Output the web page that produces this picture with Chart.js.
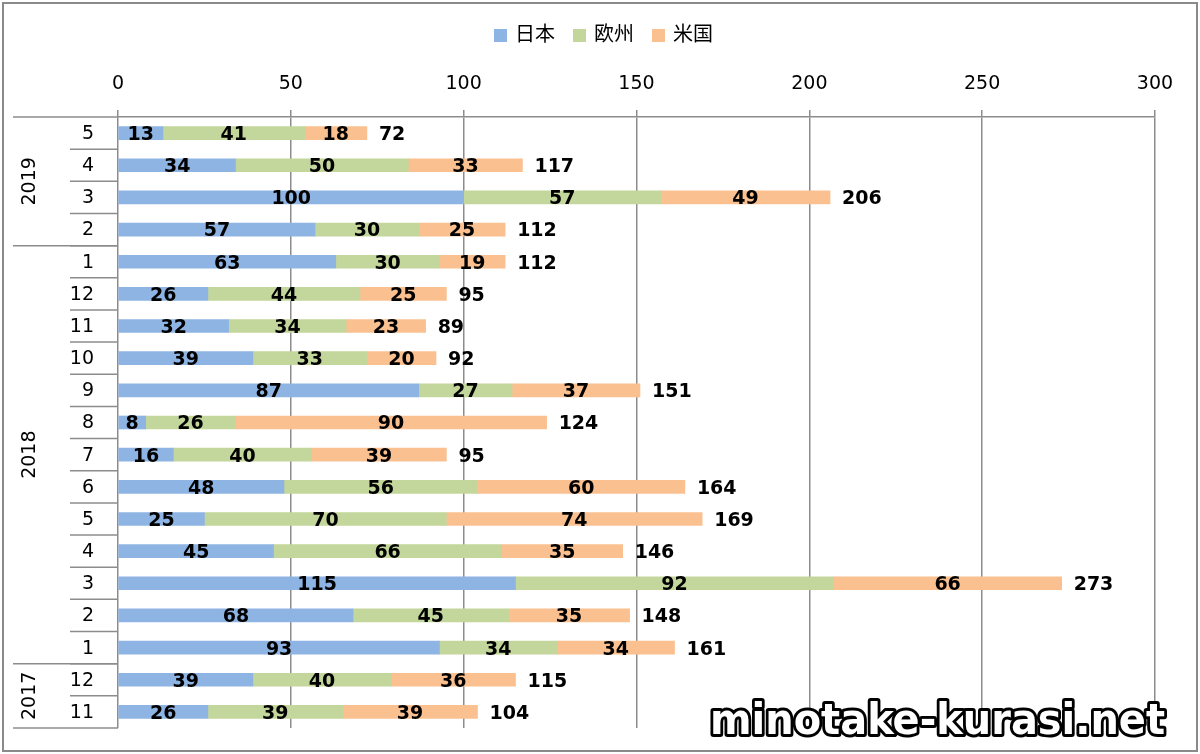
<!DOCTYPE html>
<html>
<head>
<meta charset="utf-8">
<script src="https://cdn.jsdelivr.net/npm/chart.js@4/dist/chart.umd.min.js"></script>
<style>
  html, body { margin: 0; padding: 0; background: #fff; }
  #wrap { width: 1200px; height: 754px; position: relative; }
</style>
</head>
<body>
<div id="wrap"><canvas id="chart" width="1200" height="754"></canvas></div>
<script>
// months top to bottom (latest first)
const months = ['5', '4', '3', '2', '1', '12', '11', '10', '9', '8', '7', '6', '5', '4', '3', '2', '1', '12', '11'];
// year groups as drawn in the source, with how many rows each spans
const years = ['2019', '2018', '2017'];
const yearSpans = [4, 13, 2];

const japan  = [13, 34, 100, 57, 63, 26, 32, 39, 87, 8, 16, 48, 25, 45, 115, 68, 93, 39, 26];
const europe = [41, 50, 57, 30, 30, 44, 34, 33, 27, 26, 40, 56, 70, 66, 92, 45, 34, 40, 39];
const usa    = [18, 33, 49, 25, 19, 25, 23, 20, 37, 90, 39, 60, 74, 35, 66, 35, 34, 36, 39];
const totals = [72, 117, 206, 112, 112, 95, 89, 92, 151, 124, 95, 164, 169, 146, 273, 148, 161, 115, 104];

const xTicks = [0, 50, 100, 150, 200, 250, 300];

const GRID = '#8c8c8c';
const LABEL_FONT = 'bold 19px "DejaVu Sans", Verdana, sans-serif';
const AXIS_FONT = '19px "DejaVu Sans", Verdana, sans-serif';
const LEGEND_FONT = '20px "Noto Sans CJK JP", sans-serif';

// bold values in the middle of each segment, totals after the bar end
const valueLabels = {
  id: 'valueLabels',
  afterDatasetsDraw(chart) {
    const ctx = chart.ctx;
    const x = chart.scales.x;
    ctx.save();
    ctx.font = LABEL_FONT;
    ctx.fillStyle = '#000';
    ctx.textBaseline = 'middle';
    chart.data.datasets.forEach((ds, i) => {
      const meta = chart.getDatasetMeta(i);
      meta.data.forEach((bar, j) => {
        const cx = (bar.x + bar.base) / 2;
        ctx.textAlign = 'center';
        ctx.fillText(String(ds.data[j]), cx, bar.y + 2);
      });
    });
    const meta0 = chart.getDatasetMeta(0);
    totals.forEach((t, j) => {
      ctx.textAlign = 'left';
      ctx.fillText(String(t), x.getPixelForValue(t) + 12, meta0.data[j].y + 2);
    });
    ctx.restore();
  }
};

// legend, two-level category axis, frame and watermark
const decorations = {
  id: 'decorations',
  afterDraw(chart) {
    const ctx = chart.ctx;
    const y = chart.scales.y;
    const area = chart.chartArea;
    const step = y.getPixelForValue(1) - y.getPixelForValue(0);
    ctx.save();

    // legend
    ctx.font = LEGEND_FONT;
    ctx.textBaseline = 'middle';
    ctx.textAlign = 'left';
    let lx = 494;
    chart.data.datasets.forEach(ds => {
      ctx.fillStyle = ds.backgroundColor;
      ctx.fillRect(lx, 29, 13, 13);
      ctx.fillStyle = '#000';
      ctx.fillText(ds.label, lx + 21, 33);
      lx += 21 + ctx.measureText(ds.label).width + 18;
    });

    ctx.strokeStyle = GRID;
    ctx.lineWidth = 1.5;

    // top line of the label block
    ctx.beginPath();
    ctx.moveTo(13, area.top);
    ctx.lineTo(area.left, area.top);
    ctx.stroke();

    // month labels and separators
    ctx.font = AXIS_FONT;
    ctx.fillStyle = '#000';
    ctx.textAlign = 'right';
    months.forEach((m, j) => {
      const py = y.getPixelForValue(j);
      ctx.fillText(m, 94, py + 1);
      if (j > 0) {
        ctx.beginPath();
        ctx.moveTo(70, py - step / 2);
        ctx.lineTo(area.left, py - step / 2);
        ctx.stroke();
      }
    });

    // year separators and rotated year labels
    let start = 0;
    years.forEach((yr, k) => {
      const end = start + yearSpans[k];
      const top = y.getPixelForValue(start) - step / 2;
      const bottom = y.getPixelForValue(end - 1) + step / 2;
      ctx.beginPath();
      ctx.moveTo(13, bottom);
      ctx.lineTo(area.left, bottom);
      ctx.stroke();
      ctx.save();
      ctx.translate(30, (top + bottom) / 2);
      ctx.rotate(-Math.PI / 2);
      ctx.textAlign = 'center';
      ctx.textBaseline = 'middle';
      ctx.fillText(yr, 0, 0);
      ctx.restore();
      start = end;
    });

    // outer frame
    ctx.strokeStyle = '#8a8a8a';
    ctx.lineWidth = 2;
    ctx.strokeRect(3, 3, 1194, 748);

    // watermark
    ctx.font = 'bold 42px "DejaVu Sans", sans-serif';
    ctx.textAlign = 'left';
    ctx.textBaseline = 'alphabetic';
    ctx.lineJoin = 'round';
    ctx.lineWidth = 6;
    ctx.strokeStyle = '#000';
    ctx.strokeText('minotake-kurasi.net', 710, 734, 455);
    ctx.fillStyle = '#fff';
    ctx.fillText('minotake-kurasi.net', 710, 734, 455);
    ctx.restore();
  }
};

new Chart(document.getElementById('chart'), {
  type: 'bar',
  data: {
    labels: months,
    datasets: [
      { label: '日本', data: japan, backgroundColor: '#8EB4E3' },
      { label: '欧州', data: europe, backgroundColor: '#C3D69B' },
      { label: '米国', data: usa, backgroundColor: '#FAC090' }
    ]
  },
  options: {
    indexAxis: 'y',
    responsive: false,
    animation: false,
    barThickness: 13,
    layout: { padding: { top: 50, right: 45, bottom: 26, left: 0 } },
    plugins: {
      legend: { display: false },
      tooltip: { enabled: false }
    },
    scales: {
      x: {
        position: 'top',
        stacked: true,
        min: 0,
        max: 300,
        afterBuildTicks(scale) {
          scale.ticks = xTicks.map(v => ({ value: v }));
        },
        afterFit(scale) { scale.height = 67; },
        grid: { color: GRID, lineWidth: 1.5, tickLength: 7 },
        border: { color: GRID, width: 1.5 },
        ticks: {
          color: '#000',
          padding: 15,
          font: { family: '"DejaVu Sans", Verdana, sans-serif', size: 19 }
        }
      },
      y: {
        stacked: true,
        afterFit(scale) { scale.width = 118; },
        grid: { display: false },
        border: { display: false },
        ticks: { display: false }
      }
    }
  },
  plugins: [valueLabels, decorations]
});
</script>
</body>
</html>
